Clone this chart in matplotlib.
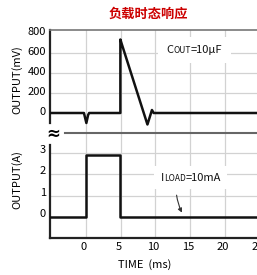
import matplotlib
matplotlib.use('Agg')
import matplotlib.pyplot as plt
import matplotlib.transforms as mtransforms
from matplotlib.offsetbox import TextArea, HPacker, AnnotationBbox

plt.rcParams['font.family'] = ['Noto Sans CJK SC', 'DejaVu Sans']

# top trace: output ripple (mV)
t_mv = [-5.2, -0.3, 0.05, 0.3, 0.45, 4.95, 4.95, 5.15, 8.85, 9.5, 9.75, 30]
v_mv = [0, 0, -100, -20, 0, 0, 735, 690, -115, 30, 0, 0]

# bottom trace: load current (A)
t_a = [-5.2, 0, 0, 4.95, 4.95, 30]
i_a = [0, 0, 2.9, 2.9, 0, 0]

xticks = [0, 5, 10, 15, 20, 25]
yticks_mv = [0, 200, 400, 600, 800]
yticks_a = [0, 1, 2, 3]

W, H = 257, 275
fig = plt.figure(figsize=(W / 100, H / 100), dpi=100)
ax1 = fig.add_axes([50 / W, 1 - 133 / H, 240 / W, 103 / H])
ax2 = fig.add_axes([50 / W, 1 - 238 / H, 240 / W, 105 / H])

xlim = (-5.19, -5.19 + 240 / 6.94)
grid_kw = dict(color='#d2d2d2', lw=0.9, zorder=0)

for ax in (ax1, ax2):
    ax.set_xlim(*xlim)
    ax.set_xticks(xticks)
    ax.tick_params(length=0, labelsize=8, pad=3)
    ax.spines['right'].set_visible(False)
    ax.spines['left'].set_linewidth(1.6)
    ax.spines['left'].set_color('#222222')
    for x in xticks:
        ax.axvline(x, **grid_kw)

ax1.set_ylim(-200, 830)
ax1.set_yticks(yticks_mv)
ax1.set_xticklabels([])
ax1.spines['bottom'].set_visible(False)
ax1.spines['top'].set_color('#777777')
ax1.spines['top'].set_linewidth(1.2)
ax1.spines['left'].set_bounds(-100, 830)
for y in [200, 400, 600]:
    ax1.axhline(y, **grid_kw)
ax1.plot(t_mv, v_mv, color='#111111', lw=1.8, zorder=3)

ax2.set_ylim(-1, 3.95)
ax2.set_yticks(yticks_a)
ax2.spines['top'].set_color('#666666')
ax2.spines['top'].set_linewidth(1.5)
ax2.spines['top'].set_bounds(-3.1, 30)
ax2.spines['left'].set_bounds(-1, 3.38)
ax2.spines['bottom'].set_linewidth(1.6)
ax2.spines['bottom'].set_color('#222222')
for y in [1, 2, 3]:
    ax2.axhline(y, **grid_kw)
ax2.plot(t_a, i_a, color='#111111', lw=1.8, zorder=3)

# tick labels sit a little off the grid in the original
for lab in ax1.get_yticklabels():
    lab.set_transform(lab.get_transform() + mtransforms.ScaledTranslation(0, 2 / 100, fig.dpi_scale_trans))
for lab in ax2.get_yticklabels():
    lab.set_transform(lab.get_transform() + mtransforms.ScaledTranslation(0, 4 / 100, fig.dpi_scale_trans))
for lab in ax2.get_xticklabels():
    lab.set_transform(lab.get_transform() + mtransforms.ScaledTranslation(-2 / 100, 0, fig.dpi_scale_trans))


def label_box(parts):
    areas = [TextArea(s, textprops=dict(fontsize=fs, color='#111111')) for s, fs in parts]
    return HPacker(children=areas, align='baseline', pad=0, sep=0)


ab1 = AnnotationBbox(label_box([('C', 8), ('OUT', 6), ('=10μF', 8)]), (15.6, 630),
                     xycoords='data', frameon=True, pad=0.6,
                     bboxprops=dict(facecolor='white', edgecolor='none'), zorder=4)
ax1.add_artist(ab1)

ab2 = AnnotationBbox(label_box([('I', 8), ('LOAD', 6), ('=10mA', 8)]), (15.1, 1.85),
                     xycoords='data', frameon=True, pad=0.45,
                     bboxprops=dict(facecolor='white', edgecolor='none'), zorder=4)
ax2.add_artist(ab2)
ax2.annotate('', xy=(14.0, 0.08), xytext=(13.0, 1.15),
             arrowprops=dict(arrowstyle='-|>', color='#333333', lw=0.8,
                             mutation_scale=6, connectionstyle='arc3,rad=0.1'),
             zorder=5)

fig.text(53 / W, 1 - 134 / H, '≈', fontsize=12, fontweight='bold', ha='center', va='center',
         family=['DejaVu Sans'])
fig.text(148 / W, 1 - 14 / H, '负载时态响应', color='#cc0000', fontsize=9.5,
         fontweight='bold', ha='center', va='center')
fig.text(17 / W, 1 - 80 / H, 'OUTPUT(mV)', rotation=90, fontsize=8, ha='center', va='center')
fig.text(17 / W, 1 - 180 / H, 'OUTPUT(A)', rotation=90, fontsize=8, ha='center', va='center')
fig.text(145 / W, 1 - 265 / H, 'TIME  (ms)', fontsize=8, ha='center', va='center')

fig.savefig('out.png', dpi=100)
